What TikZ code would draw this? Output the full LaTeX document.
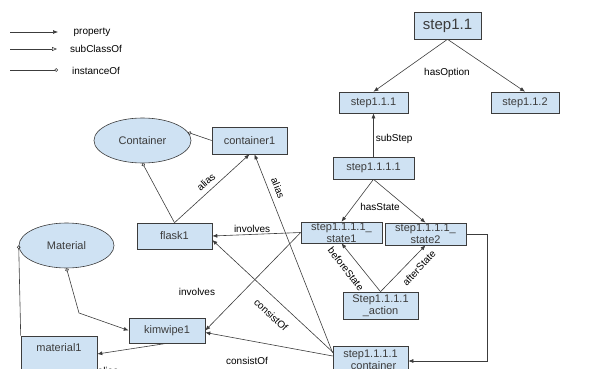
\documentclass[tikz,border=0pt]{standalone}
\usepackage{fontspec}
\setmainfont{Liberation Sans}
\usetikzlibrary{arrows.meta,shapes.geometric}
\definecolor{boxblue}{RGB}{207,226,243}
\definecolor{edgegray}{RGB}{60,60,60}
\tikzset{
  box/.style={draw=edgegray,fill=boxblue,rectangle,inner sep=0pt,align=center,
    font=\fontsize{11}{12}\selectfont},
  cls/.style={draw=edgegray,fill=boxblue,ellipse,inner sep=0pt,
    font=\fontsize{11}{12}\selectfont},
  lbl/.style={font=\fontsize{10}{12}\selectfont,inner sep=2pt,black},
  prop/.style={-{Latex[length=5pt,width=4pt]}},
  sub/.style={-{Triangle[open,length=5pt,width=4pt]}},
  inst/.style={-{Circle[open,length=3.5pt]}},
}

\begin{document}
\begin{tikzpicture}[x=1pt,y=-1pt,edgegray,line width=0.6pt]
    \useasboundingbox (0,0) rectangle (616,369);
    % legend
    \coordinate(lp0) at (10,32);  \coordinate(lp1) at (58,32);
    \coordinate(ls0) at (10,49);  \coordinate(ls1) at (57,49);
    \coordinate(li0) at (10,70);  \coordinate(li1) at (58,70);
    \node[lbl](lgprop) at (92,32) {property};
    \node[lbl](lgsub) at (96,49) {subClassOf};
    \node[lbl](lginst) at (96,71) {instanceOf};
    \path[prop] (lp0) edge (lp1);
    \path[sub] (ls0) edge (ls1);
    \path[inst] (li0) edge (li1);

    % steps
    \node[box,minimum width=67pt,minimum height=27pt,font=\fontsize{15}{16}\selectfont](step11) at (447.5,25.5) {step1.1};
    \node[box,minimum width=69pt,minimum height=21pt](step111) at (373.5,102.5) {step1.1.1};
    \node[box,minimum width=68pt,minimum height=21pt](step112) at (525,102.5) {step1.1.2};
    \node[box,minimum width=81pt,minimum height=22pt](step1111) at (373.5,168) {step1.1.1.1};
    \node[box,minimum width=81pt,minimum height=21pt](state1) at (341.5,232.5) {step1.1.1.1\_\\state1};
    \node[box,minimum width=81pt,minimum height=22pt](state2) at (425.5,234) {step1.1.1.1\_\\state2};
    \node[box,minimum width=75pt,minimum height=27pt](action) at (380.5,305.5) {Step1.1.1.1\\\_action};
    \node[box,minimum width=75pt,minimum height=30pt](cont) at (370.5,361) {step1.1.1.1\\\_container};

    % things
    \node[cls,minimum width=97pt,minimum height=45pt](Container) at (142.5,140.5) {Container};
    \node[cls,minimum width=95pt,minimum height=45pt](Material) at (66.5,245.5) {Material};
    \node[box,minimum width=75pt,minimum height=27pt](container1) at (249.5,140.5) {container1};
    \node[box,minimum width=75pt,minimum height=26pt](flask1) at (174.5,236) {flask1};
    \node[box,minimum width=76pt,minimum height=25pt](kimwipe1) at (167,330.5) {kimwipe1};
    \node[box,minimum width=76pt,minimum height=36pt,text depth=12pt](material1) at (59,354) {material1};

    % labels standing apart from their lines
    \node[lbl](lblopt) at (447,73) {hasOption};
    \node[lbl](lblstate) at (380,207) {hasState};
    \node[lbl](lblinv) at (197,292) {involves};
    \node[lbl](lblcons) at (247,361) {consistOf};
    \node[lbl](lblalias) at (108,371) {alias};
    \node[lbl,rotate=-52](lblbefore) at (346,269) {beforeState};
    \node[lbl,rotate=47](lblafter) at (419,268) {afterState};
    \node[lbl,rotate=-68](lblalias2) at (278,188) {alias};
    \node[lbl,rotate=41](lblalias1) at (206,182) {alias};
    \node[lbl,rotate=-43](lblcons1) at (271,315) {consistOf};
    \coordinate(bend) at (79,313);

    \path[prop] (step11.south) edge (step111.north);
    \path[prop] (step11.south) edge (step112.north);
    \path[prop] (step1111.north) edge node[lbl,right,pos=0.4] {subStep} (step111.south);
    \path[prop] (step1111.south) edge (state1.north);
    \path[prop] (step1111.south) edge (state2.north);
    \path[prop] (action.north) edge (state1.south);
    \path[prop] (action.north) edge (state2.south);
    \draw[prop] (state2.east) -- ++(21,0) |- (cont.east);
    \path[prop] (state1.west) edge node[lbl,above,pos=0.55] {involves} (flask1.east);
    \path[prop] (state1.west) edge (kimwipe1.east);
    \path[prop] ([yshift=8pt]cont.west) edge ([xshift=5pt]container1.south);
    \path[prop] ([yshift=9pt]cont.west) edge ([yshift=-4pt]flask1.east);
    \path[prop] ([yshift=5pt]cont.west) edge ([yshift=-2pt]kimwipe1.east);
    \path[prop] (flask1.north) edge (container1.south);
    \path[inst] (flask1.north) edge (Container.south);
    \path[inst] (container1.west) edge (Container.10);
    \path[prop] (kimwipe1.south) edge (material1.east);
    \draw[{Circle[open,length=3.5pt]}-{Latex[length=5pt,width=4pt]}] (Material.south) -- (bend) -- (kimwipe1.west);
    \path[inst] (material1.north west) edge (Material.west);
\end{tikzpicture}
\end{document}
